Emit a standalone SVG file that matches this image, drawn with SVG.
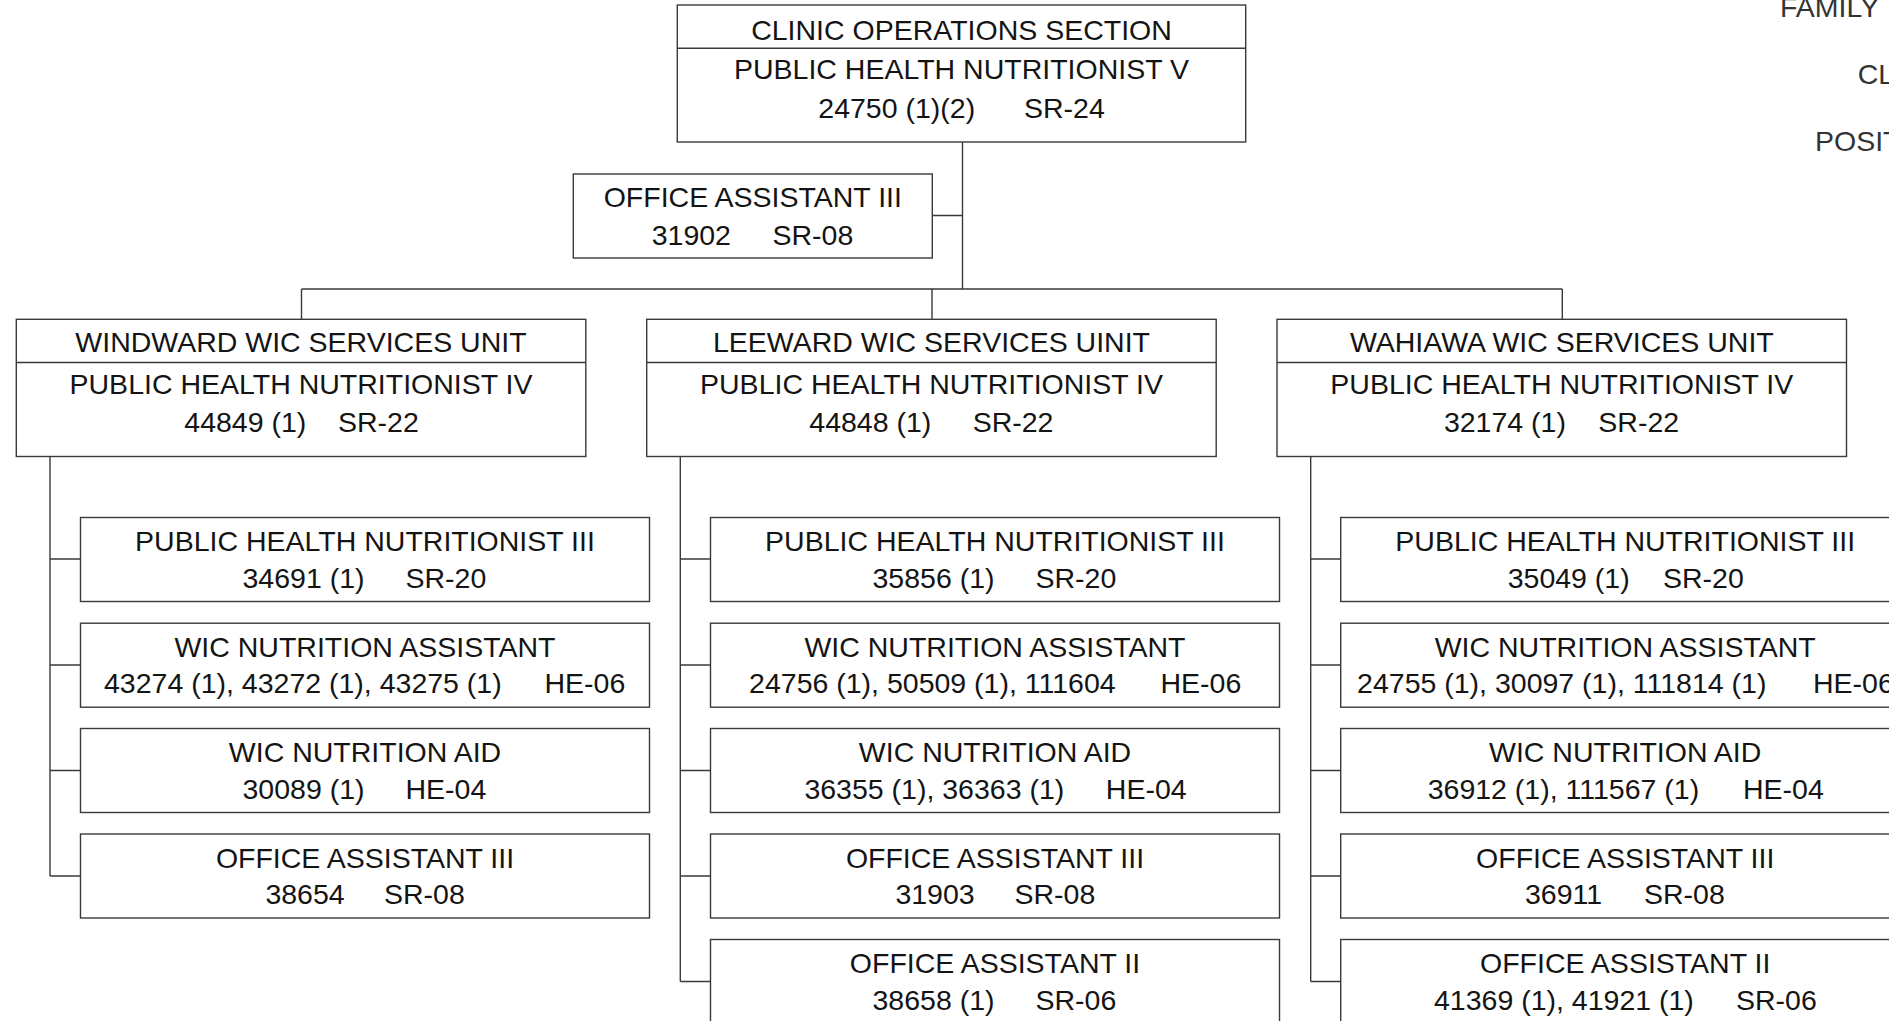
<svg xmlns="http://www.w3.org/2000/svg" width="1889" height="1021" viewBox="0 0 1889 1021">
<style>
.bg{fill:#ffffff}
.box{fill:#ffffff;stroke:#3a3a3a;stroke-width:1.4}
.ln{fill:none;stroke:#3a3a3a;stroke-width:1.4}
text{font-family:"Liberation Sans",Arial,sans-serif;font-size:28.5px;fill:#141414}
.c{text-anchor:middle}
.lg{fill:#333333}
</style>
<rect class="bg" x="0" y="0" width="1889" height="1021"/>

<g id="connectors">
  <path class="ln" d="M962.5,142 V289 M932.3,215.5 H962.5"/>
  <path class="ln" d="M301.5,289 H1562.3 M301.5,289 V319.3 M932,289 V319.3 M1562.3,289 V319.3"/>
  <path class="ln" d="M50,456.5 V876 M50,559 H80.5 M50,665 H80.5 M50,770.5 H80.5 M50,876 H80.5"/>
  <path class="ln" d="M680.3,456.5 V981.5 M680.3,559 H710.5 M680.3,665 H710.5 M680.3,770.5 H710.5 M680.3,876 H710.5 M680.3,981.5 H710.5"/>
  <path class="ln" d="M1310.7,456.5 V981.5 M1310.7,559 H1340.7 M1310.7,665 H1340.7 M1310.7,770.5 H1340.7 M1310.7,876 H1340.7 M1310.7,981.5 H1340.7"/>
</g>

<g id="clinic-operations">
  <rect class="box" x="677.3" y="5" width="568.4" height="137"/>
  <line class="ln" x1="677.3" y1="48.3" x2="1245.7" y2="48.3"/>
  <text class="c" x="961.5" y="39.5">CLINIC OPERATIONS SECTION</text>
  <text class="c" x="961.5" y="79">PUBLIC HEALTH NUTRITIONIST V</text>
  <text y="117.5"><tspan x="818.3">24750 (1)(2)</tspan><tspan x="1024">SR-24</tspan></text>
</g>

<g id="office-assistant-31902">
  <rect class="box" x="573.3" y="174" width="359" height="84"/>
  <text class="c" x="752.8" y="207.3">OFFICE ASSISTANT III</text>
  <text y="245"><tspan x="651.7">31902</tspan><tspan x="772.5">SR-08</tspan></text>
</g>

<g id="windward-unit">
  <rect class="box" x="16.3" y="319.3" width="569.5" height="137.2"/>
  <line class="ln" x1="16.3" y1="362.5" x2="585.8" y2="362.5"/>
  <text class="c" x="301" y="351.7">WINDWARD WIC SERVICES UNIT</text>
  <text class="c" x="301" y="394">PUBLIC HEALTH NUTRITIONIST IV</text>
  <text y="431.7"><tspan x="184.3">44849 (1)</tspan><tspan x="338">SR-22</tspan></text>
</g>

<g id="leeward-unit">
  <rect class="box" x="646.7" y="319.3" width="569.5" height="137.2"/>
  <line class="ln" x1="646.7" y1="362.5" x2="1216.2" y2="362.5"/>
  <text class="c" x="931.5" y="351.7">LEEWARD WIC SERVICES UINIT</text>
  <text class="c" x="931.5" y="394">PUBLIC HEALTH NUTRITIONIST IV</text>
  <text y="431.7"><tspan x="809.3">44848 (1)</tspan><tspan x="972.7">SR-22</tspan></text>
</g>

<g id="wahiawa-unit">
  <rect class="box" x="1277" y="319.3" width="569.5" height="137.2"/>
  <line class="ln" x1="1277" y1="362.5" x2="1846.5" y2="362.5"/>
  <text class="c" x="1561.8" y="351.7">WAHIAWA WIC SERVICES UNIT</text>
  <text class="c" x="1561.8" y="394">PUBLIC HEALTH NUTRITIONIST IV</text>
  <text y="431.7"><tspan x="1443.9">32174 (1)</tspan><tspan x="1598.3">SR-22</tspan></text>
</g>

<g id="windward-phn3">
  <rect class="box" x="80.5" y="517.5" width="569" height="84"/>
  <text class="c" x="365" y="551">PUBLIC HEALTH NUTRITIONIST III</text>
  <text y="587.5"><tspan x="242.5">34691 (1)</tspan><tspan x="405.5">SR-20</tspan></text>
</g>
<g id="windward-wna">
  <rect class="box" x="80.5" y="623.2" width="569" height="84"/>
  <text class="c" x="365" y="656.7">WIC NUTRITION ASSISTANT</text>
  <text y="693.2"><tspan x="104">43274 (1), 43272 (1), 43275 (1)</tspan><tspan x="544.5">HE-06</tspan></text>
</g>
<g id="windward-aid">
  <rect class="box" x="80.5" y="728.5" width="569" height="84"/>
  <text class="c" x="365" y="762">WIC NUTRITION AID</text>
  <text y="798.5"><tspan x="242.5">30089 (1)</tspan><tspan x="405.5">HE-04</tspan></text>
</g>
<g id="windward-oa3">
  <rect class="box" x="80.5" y="834" width="569" height="84"/>
  <text class="c" x="365" y="867.5">OFFICE ASSISTANT III</text>
  <text y="904"><tspan x="265.4">38654</tspan><tspan x="384">SR-08</tspan></text>
</g>

<g id="leeward-phn3">
  <rect class="box" x="710.5" y="517.5" width="569" height="84"/>
  <text class="c" x="995" y="551">PUBLIC HEALTH NUTRITIONIST III</text>
  <text y="587.5"><tspan x="872.5">35856 (1)</tspan><tspan x="1035.5">SR-20</tspan></text>
</g>
<g id="leeward-wna">
  <rect class="box" x="710.5" y="623.2" width="569" height="84"/>
  <text class="c" x="995" y="656.7">WIC NUTRITION ASSISTANT</text>
  <text y="693.2"><tspan x="749.1">24756 (1), 50509 (1), 111604</tspan><tspan x="1160.5">HE-06</tspan></text>
</g>
<g id="leeward-aid">
  <rect class="box" x="710.5" y="728.5" width="569" height="84"/>
  <text class="c" x="995" y="762">WIC NUTRITION AID</text>
  <text y="798.5"><tspan x="804.4">36355 (1), 36363 (1)</tspan><tspan x="1105.8">HE-04</tspan></text>
</g>
<g id="leeward-oa3">
  <rect class="box" x="710.5" y="834" width="569" height="84"/>
  <text class="c" x="995" y="867.5">OFFICE ASSISTANT III</text>
  <text y="904"><tspan x="895.4">31903</tspan><tspan x="1014.5">SR-08</tspan></text>
</g>
<g id="leeward-oa2">
  <rect class="box" x="710.5" y="939.5" width="569" height="84"/>
  <text class="c" x="995" y="973">OFFICE ASSISTANT II</text>
  <text y="1009.5"><tspan x="872.5">38658 (1)</tspan><tspan x="1035.5">SR-06</tspan></text>
</g>

<g id="wahiawa-phn3">
  <rect class="box" x="1340.7" y="517.5" width="569" height="84"/>
  <text class="c" x="1625.2" y="551">PUBLIC HEALTH NUTRITIONIST III</text>
  <text y="587.5"><tspan x="1507.7">35049 (1)</tspan><tspan x="1663">SR-20</tspan></text>
</g>
<g id="wahiawa-wna">
  <rect class="box" x="1340.7" y="623.2" width="569" height="84"/>
  <text class="c" x="1625.2" y="656.7">WIC NUTRITION ASSISTANT</text>
  <text y="693.2"><tspan x="1357.1">24755 (1), 30097 (1), 111814 (1)</tspan><tspan x="1813">HE-06</tspan></text>
</g>
<g id="wahiawa-aid">
  <rect class="box" x="1340.7" y="728.5" width="569" height="84"/>
  <text class="c" x="1625.2" y="762">WIC NUTRITION AID</text>
  <text y="798.5"><tspan x="1427.7">36912 (1), 111567 (1)</tspan><tspan x="1743">HE-04</tspan></text>
</g>
<g id="wahiawa-oa3">
  <rect class="box" x="1340.7" y="834" width="569" height="84"/>
  <text class="c" x="1625.2" y="867.5">OFFICE ASSISTANT III</text>
  <text y="904"><tspan x="1525">36911</tspan><tspan x="1644">SR-08</tspan></text>
</g>
<g id="wahiawa-oa2">
  <rect class="box" x="1340.7" y="939.5" width="569" height="84"/>
  <text class="c" x="1625.2" y="973">OFFICE ASSISTANT II</text>
  <text y="1009.5"><tspan x="1434">41369 (1), 41921 (1)</tspan><tspan x="1736">SR-06</tspan></text>
</g>

<g id="legend">
  <text class="lg" x="1780" y="16.7">FAMILY</text>
  <text class="lg" x="1857.7" y="84.3">CL</text>
  <text class="lg" x="1815" y="151">POSIT</text>
</g>
</svg>
